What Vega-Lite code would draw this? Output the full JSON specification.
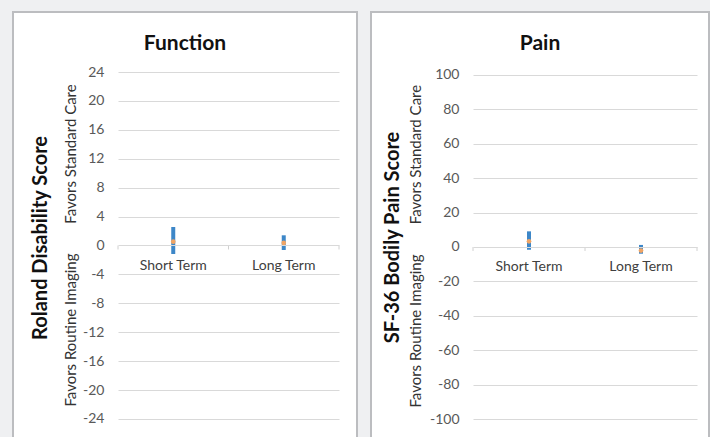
{
  "$schema": "https://vega.github.io/schema/vega-lite/v6.json",
  "background": "#eff0f2",
  "padding": {"left": 11, "top": 10, "right": 1, "bottom": 0},
  "spacing": 12,
  "data": {"values": [
    {"panel": "Function", "term": "Short Term", "low": -1.18, "high": 2.56, "mean": 0.53},
    {"panel": "Function", "term": "Long Term", "low": -0.62, "high": 1.41, "mean": 0.35},
    {"panel": "Pain", "term": "Short Term", "low": -1.6, "high": 9.1, "mean": 3.3},
    {"panel": "Pain", "term": "Long Term", "low": -3.9, "high": 1.2, "mean": -2.1}
  ]},
  "config": {
    "view": {"stroke": null},
    "axisY": {"domain": false, "ticks": false, "grid": true, "gridColor": "#d9d9d9", "gridWidth": 1, "labelColor": "#595959", "labelFont": "Lato", "labelFontSize": 14, "labelPadding": 14, "zindex": 1},
    "text": {"font": "Lato"}
  },
  "hconcat": [
    {
      "width": 221,
      "height": 349,
      "resolve": {"scale": {"x": "independent"}},
      "layer": [
        {
          "data": {"values": [{}]},
          "layer": [
            {"mark": {"type": "rect", "clip": false, "color": "#bcbdc0"},
             "encoding": {
               "x": {"datum": -0.4593, "type": "quantitative", "scale": {"domain": [0.5, 2.5], "nice": false, "zero": false}, "axis": null},
               "x2": {"datum": 2.6719},
               "y": {"datum": 32.44, "type": "quantitative", "scale": {"domain": [-24.277, 24], "nice": false, "zero": false}, "axis": {"title": null, "zindex": 1, "values": [-24,-20,-16,-12,-8,-4,0,4,8,12,16,20,24], "labelExpr": "'' + datum.value"}},
               "y2": {"datum": -26.63}}},
            {"mark": {"type": "rect", "clip": false, "color": "#ffffff"},
             "encoding": {
               "x": {"datum": -0.4412, "type": "quantitative", "scale": {"domain": [0.5, 2.5], "nice": false, "zero": false}, "axis": null},
               "x2": {"datum": 2.6538},
               "y": {"datum": 32.16, "type": "quantitative", "scale": {"domain": [-24.277, 24], "nice": false, "zero": false}, "axis": {"title": null, "zindex": 1, "values": [-24,-20,-16,-12,-8,-4,0,4,8,12,16,20,24], "labelExpr": "'' + datum.value"}},
               "y2": {"datum": -26.63}}},
            {"mark": {"type": "text", "clip": false, "text": "Function", "fontSize": 21, "fontWeight": "bold", "color": "#111111", "align": "center", "baseline": "middle"},
             "encoding": {
               "x": {"datum": 1.1063, "type": "quantitative", "scale": {"domain": [0.5, 2.5], "nice": false, "zero": false}, "axis": null},
               "y": {"datum": 27.87, "type": "quantitative", "scale": {"domain": [-24.277, 24], "nice": false, "zero": false}, "axis": {"title": null, "zindex": 1, "values": [-24,-20,-16,-12,-8,-4,0,4,8,12,16,20,24], "labelExpr": "'' + datum.value"}}}},
            {"mark": {"type": "text", "clip": false, "text": "Roland Disability Score", "angle": 270, "fontSize": 20, "fontWeight": "bold", "color": "#111111", "align": "center", "baseline": "middle"},
             "encoding": {
               "x": {"datum": -0.1968, "type": "quantitative", "scale": {"domain": [0.5, 2.5], "nice": false, "zero": false}, "axis": null},
               "y": {"datum": 1.04, "type": "quantitative", "scale": {"domain": [-24.277, 24], "nice": false, "zero": false}, "axis": {"title": null, "zindex": 1, "values": [-24,-20,-16,-12,-8,-4,0,4,8,12,16,20,24], "labelExpr": "'' + datum.value"}}}},
            {"mark": {"type": "text", "clip": false, "text": "Favors Standard Care", "angle": 270, "fontSize": 15, "color": "#333333", "align": "center", "baseline": "middle"},
             "encoding": {
               "x": {"datum": 0.0747, "type": "quantitative", "scale": {"domain": [0.5, 2.5], "nice": false, "zero": false}, "axis": null},
               "y": {"datum": 12.66, "type": "quantitative", "scale": {"domain": [-24.277, 24], "nice": false, "zero": false}, "axis": {"title": null, "zindex": 1, "values": [-24,-20,-16,-12,-8,-4,0,4,8,12,16,20,24], "labelExpr": "'' + datum.value"}}}},
            {"mark": {"type": "text", "clip": false, "text": "Favors Routine Imaging", "angle": 270, "fontSize": 15, "color": "#333333", "align": "center", "baseline": "middle"},
             "encoding": {
               "x": {"datum": 0.0747, "type": "quantitative", "scale": {"domain": [0.5, 2.5], "nice": false, "zero": false}, "axis": null},
               "y": {"datum": -11.69, "type": "quantitative", "scale": {"domain": [-24.277, 24], "nice": false, "zero": false}, "axis": {"title": null, "zindex": 1, "values": [-24,-20,-16,-12,-8,-4,0,4,8,12,16,20,24], "labelExpr": "'' + datum.value"}}}},
            {"data": {"values": [{"b": 0.5}, {"b": 1.5}, {"b": 2.5}]},
             "mark": {"type": "rule", "clip": false, "color": "#d0d0d0", "strokeWidth": 1},
             "encoding": {
               "x": {"field": "b", "type": "quantitative", "scale": {"domain": [0.5, 2.5], "nice": false, "zero": false}, "axis": null},
               "y": {"datum": 0, "type": "quantitative", "scale": {"domain": [-24.277, 24], "nice": false, "zero": false}, "axis": {"title": null, "zindex": 1, "values": [-24,-20,-16,-12,-8,-4,0,4,8,12,16,20,24], "labelExpr": "'' + datum.value"}},
               "y2": {"datum": -0.55}}}
          ]
        },
        {
          "transform": [{"filter": "datum.panel === 'Function'"}],
          "layer": [
            {"mark": {"type": "rule", "color": "#3d87c8", "strokeWidth": 4},
             "encoding": {
               "x": {"field": "term", "type": "nominal", "sort": ["Short Term", "Long Term"], "scale": {"type": "point", "padding": 0.5}, "axis": null},
               "y": {"field": "low", "type": "quantitative", "scale": {"domain": [-24.277, 24], "nice": false, "zero": false}, "axis": {"title": null, "zindex": 1, "values": [-24,-20,-16,-12,-8,-4,0,4,8,12,16,20,24], "labelExpr": "'' + datum.value"}},
               "y2": {"field": "high"}}},
            {"mark": {"type": "circle", "color": "#f0a464", "opacity": 1, "size": 22},
             "encoding": {
               "x": {"field": "term", "type": "nominal", "sort": ["Short Term", "Long Term"], "scale": {"type": "point", "padding": 0.5}, "axis": null},
               "y": {"field": "mean", "type": "quantitative", "scale": {"domain": [-24.277, 24], "nice": false, "zero": false}, "axis": {"title": null, "zindex": 1, "values": [-24,-20,-16,-12,-8,-4,0,4,8,12,16,20,24], "labelExpr": "'' + datum.value"}}}},
            {"mark": {"type": "text", "fontSize": 14, "color": "#404040", "dy": 20.5, "align": "center", "baseline": "middle"},
             "encoding": {
               "x": {"field": "term", "type": "nominal", "sort": ["Short Term", "Long Term"], "scale": {"type": "point", "padding": 0.5}, "axis": null},
               "y": {"datum": 0, "type": "quantitative", "scale": {"domain": [-24.277, 24], "nice": false, "zero": false}, "axis": {"title": null, "zindex": 1, "values": [-24,-20,-16,-12,-8,-4,0,4,8,12,16,20,24], "labelExpr": "'' + datum.value"}},
               "text": {"field": "term"}}}
          ]
        }
      ]
    },
    {
      "width": 224,
      "height": 349,
      "resolve": {"scale": {"x": "independent"}},
      "layer": [
        {
          "data": {"values": [{}]},
          "layer": [
            {"mark": {"type": "rect", "clip": false, "color": "#bcbdc0"},
             "encoding": {
               "x": {"datum": -0.4196, "type": "quantitative", "scale": {"domain": [0.5, 2.5], "nice": false, "zero": false}, "axis": null},
               "x2": {"datum": 2.6161},
               "y": {"datum": 137.21, "type": "quantitative", "scale": {"domain": [-101.16, 101.74], "nice": false, "zero": false}, "axis": {"title": null, "zindex": 1, "values": [-100,-80,-60,-40,-20,0,20,40,60,80,100], "labelExpr": "'' + datum.value"}},
               "y2": {"datum": -111.05}}},
            {"mark": {"type": "rect", "clip": false, "color": "#ffffff"},
             "encoding": {
               "x": {"datum": -0.4018, "type": "quantitative", "scale": {"domain": [0.5, 2.5], "nice": false, "zero": false}, "axis": null},
               "x2": {"datum": 2.5982},
               "y": {"datum": 136.05, "type": "quantitative", "scale": {"domain": [-101.16, 101.74], "nice": false, "zero": false}, "axis": {"title": null, "zindex": 1, "values": [-100,-80,-60,-40,-20,0,20,40,60,80,100], "labelExpr": "'' + datum.value"}},
               "y2": {"datum": -111.05}}},
            {"mark": {"type": "text", "clip": false, "text": "Pain", "fontSize": 21, "fontWeight": "bold", "color": "#111111", "align": "center", "baseline": "middle"},
             "encoding": {
               "x": {"datum": 1.0982, "type": "quantitative", "scale": {"domain": [0.5, 2.5], "nice": false, "zero": false}, "axis": null},
               "y": {"datum": 118.02, "type": "quantitative", "scale": {"domain": [-101.16, 101.74], "nice": false, "zero": false}, "axis": {"title": null, "zindex": 1, "values": [-100,-80,-60,-40,-20,0,20,40,60,80,100], "labelExpr": "'' + datum.value"}}}},
            {"mark": {"type": "text", "clip": false, "text": "SF-36 Bodily Pain Score", "angle": 270, "fontSize": 20, "fontWeight": "bold", "color": "#111111", "align": "center", "baseline": "middle"},
             "encoding": {
               "x": {"datum": -0.2143, "type": "quantitative", "scale": {"domain": [0.5, 2.5], "nice": false, "zero": false}, "axis": null},
               "y": {"datum": 5.52, "type": "quantitative", "scale": {"domain": [-101.16, 101.74], "nice": false, "zero": false}, "axis": {"title": null, "zindex": 1, "values": [-100,-80,-60,-40,-20,0,20,40,60,80,100], "labelExpr": "'' + datum.value"}}}},
            {"mark": {"type": "text", "clip": false, "text": "Favors Standard Care", "angle": 270, "fontSize": 15, "color": "#333333", "align": "center", "baseline": "middle"},
             "encoding": {
               "x": {"datum": -0.0089, "type": "quantitative", "scale": {"domain": [0.5, 2.5], "nice": false, "zero": false}, "axis": null},
               "y": {"datum": 53.78, "type": "quantitative", "scale": {"domain": [-101.16, 101.74], "nice": false, "zero": false}, "axis": {"title": null, "zindex": 1, "values": [-100,-80,-60,-40,-20,0,20,40,60,80,100], "labelExpr": "'' + datum.value"}}}},
            {"mark": {"type": "text", "clip": false, "text": "Favors Routine Imaging", "angle": 270, "fontSize": 15, "color": "#333333", "align": "center", "baseline": "middle"},
             "encoding": {
               "x": {"datum": -0.0089, "type": "quantitative", "scale": {"domain": [0.5, 2.5], "nice": false, "zero": false}, "axis": null},
               "y": {"datum": -48.84, "type": "quantitative", "scale": {"domain": [-101.16, 101.74], "nice": false, "zero": false}, "axis": {"title": null, "zindex": 1, "values": [-100,-80,-60,-40,-20,0,20,40,60,80,100], "labelExpr": "'' + datum.value"}}}},
            {"data": {"values": [{"b": 0.5}, {"b": 1.5}, {"b": 2.5}]},
             "mark": {"type": "rule", "clip": false, "color": "#d0d0d0", "strokeWidth": 1},
             "encoding": {
               "x": {"field": "b", "type": "quantitative", "scale": {"domain": [0.5, 2.5], "nice": false, "zero": false}, "axis": null},
               "y": {"datum": 0, "type": "quantitative", "scale": {"domain": [-101.16, 101.74], "nice": false, "zero": false}, "axis": {"title": null, "zindex": 1, "values": [-100,-80,-60,-40,-20,0,20,40,60,80,100], "labelExpr": "'' + datum.value"}},
               "y2": {"datum": -2.3}}}
          ]
        },
        {
          "transform": [{"filter": "datum.panel === 'Pain'"}],
          "layer": [
            {"mark": {"type": "rule", "color": "#3d87c8", "strokeWidth": 4},
             "encoding": {
               "x": {"field": "term", "type": "nominal", "sort": ["Short Term", "Long Term"], "scale": {"type": "point", "padding": 0.5}, "axis": null},
               "y": {"field": "low", "type": "quantitative", "scale": {"domain": [-101.16, 101.74], "nice": false, "zero": false}, "axis": {"title": null, "zindex": 1, "values": [-100,-80,-60,-40,-20,0,20,40,60,80,100], "labelExpr": "'' + datum.value"}},
               "y2": {"field": "high"}}},
            {"mark": {"type": "circle", "color": "#f0a464", "opacity": 1, "size": 22},
             "encoding": {
               "x": {"field": "term", "type": "nominal", "sort": ["Short Term", "Long Term"], "scale": {"type": "point", "padding": 0.5}, "axis": null},
               "y": {"field": "mean", "type": "quantitative", "scale": {"domain": [-101.16, 101.74], "nice": false, "zero": false}, "axis": {"title": null, "zindex": 1, "values": [-100,-80,-60,-40,-20,0,20,40,60,80,100], "labelExpr": "'' + datum.value"}}}},
            {"mark": {"type": "text", "fontSize": 14, "color": "#404040", "dy": 20, "align": "center", "baseline": "middle"},
             "encoding": {
               "x": {"field": "term", "type": "nominal", "sort": ["Short Term", "Long Term"], "scale": {"type": "point", "padding": 0.5}, "axis": null},
               "y": {"datum": 0, "type": "quantitative", "scale": {"domain": [-101.16, 101.74], "nice": false, "zero": false}, "axis": {"title": null, "zindex": 1, "values": [-100,-80,-60,-40,-20,0,20,40,60,80,100], "labelExpr": "'' + datum.value"}},
               "text": {"field": "term"}}}
          ]
        }
      ]
    }
  ]
}
